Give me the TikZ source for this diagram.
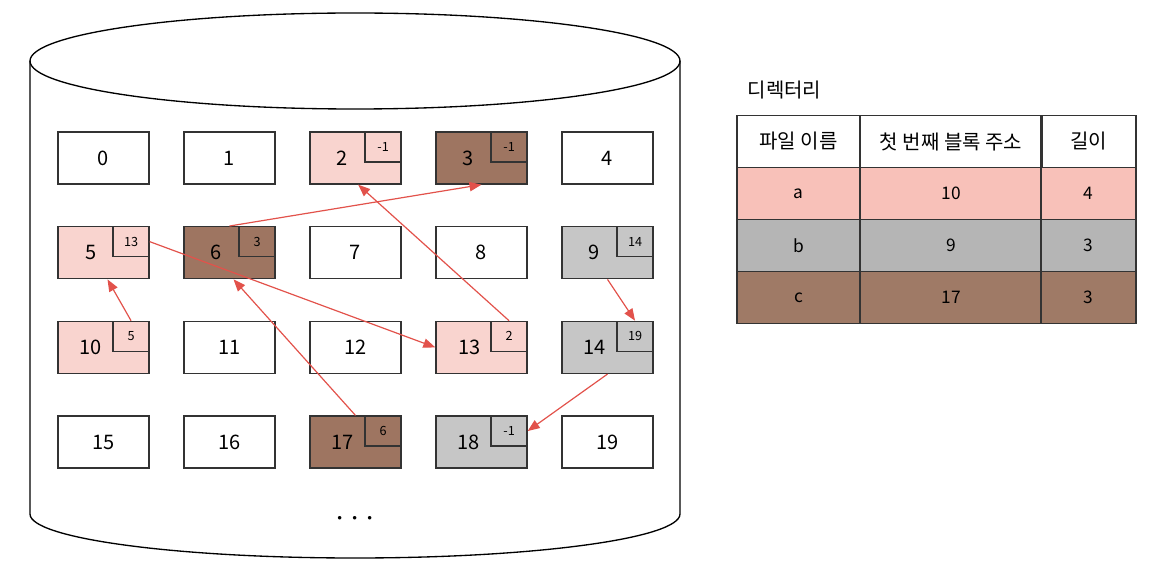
\documentclass[tikz,border=0pt]{standalone}
\usepackage{fontspec}
\setmainfont{Noto Sans CJK KR}
\usetikzlibrary{arrows.meta}

\definecolor{pinkblk}{HTML}{F9D4CF}
\definecolor{brownblk}{HTML}{9E7561}
\definecolor{grayblk}{HTML}{C6C6C6}
\definecolor{pinktab}{HTML}{F8C1B9}
\definecolor{graytab}{HTML}{B5B5B5}
\definecolor{browntab}{HTML}{9F7A66}
\definecolor{linkred}{HTML}{E2524B}

\tikzset{
  blk/.style={draw=black!80, line width=1pt, minimum width=68.25pt, minimum height=39pt, inner sep=0pt},
  ptr/.style={draw=black!80, line width=0.9pt, minimum width=27pt, minimum height=22.5pt, inner sep=0pt, font=\fontsize{9.5}{9.5}\selectfont},
  num/.style={font=\fontsize{15}{15}\selectfont},
  link/.style={linkred, line width=0.9pt, -{Triangle[length=9pt,width=7pt]}},
  cell/.style={draw=black!80, line width=1pt, minimum height=39pt, inner sep=0pt, font=\fontsize{13}{13}\selectfont}
}

\begin{document}
\begin{tikzpicture}[x=0.75pt, y=-0.75pt]
  \useasboundingbox (0,0) rectangle (1157,577);
  \pgfmathsetmacro{\dx}{126}
  \pgfmathsetmacro{\dy}{94.7}

  % disk
  \draw[line width=1pt] (355,61) ellipse[x radius=325, y radius=48];
  \draw[line width=1pt] (30,61) -- (30,514) arc[start angle=180, end angle=0, x radius=325, y radius=44] -- (680,61);
  \node[font=\fontsize{24}{24}\selectfont] (more) at (355,519) {$\cdots$};

  % blocks (number, fill, label shift)
  \foreach \i/\fc/\sh in {0/white/0, 1/white/0, 2/pinkblk/-10, 3/brownblk/-10, 4/white/0,
                          5/pinkblk/-9, 6/brownblk/-10, 7/white/0, 8/white/0, 9/grayblk/-10,
                          10/pinkblk/-10, 11/white/0, 12/white/0, 13/pinkblk/-9, 14/grayblk/-10,
                          15/white/0, 16/white/0, 17/brownblk/-10, 18/grayblk/-10, 19/white/0} {
    \pgfmathsetmacro{\cx}{103.5 + \dx*mod(\i,5)}
    \pgfmathsetmacro{\cy}{158 + \dy*int(\i/5)}
    \node[blk, fill=\fc] (b\i) at (\cx,\cy) {};
    \node[num] (n\i) at ([xshift=\sh pt]b\i.center) {\i};
  }

  % next-block pointers
  \foreach \i/\p in {2/-1, 3/-1, 5/13, 6/3, 9/14, 10/5, 13/2, 14/19, 17/6, 18/-1} {
    \node[ptr, anchor=north east] (p\i) at (b\i.north east) {\p};
  }

  % links
  \draw[link] (p10.north) -- ([xshift=3pt]b5.south);
  \draw[link] (p5.east) -- (b13.west);
  \draw[link] (p13.north) -- ([xshift=2pt]b2.south);
  \draw[link] (b17.north) -- ([xshift=3pt]b6.south);
  \draw[link] (b6.north) -- (b3.south);
  \draw[link] (b9.south) -- (p14.north);
  \draw[link] (b14.south) -- (p18.east);

  % directory table
  \node[anchor=west, font=\fontsize{15}{15}\selectfont] (title) at (743,90) {디렉터리};
  \foreach \r/\fc/\ca/\cb/\cc in {1/pinktab/a/10/4, 2/graytab/b/9/3, 3/browntab/c/17/3} {
    \pgfmathsetmacro{\ry}{141.5 + 52*\r}
    \node[cell, fill=\fc, minimum width=92.25pt] (t\r a) at (798.5,\ry) {\ca};
    \node[cell, fill=\fc, minimum width=136.5pt] (t\r b) at (951,\ry) {\cb};
    \node[cell, fill=\fc, minimum width=71.25pt] (t\r c) at (1088.5,\ry) {\cc};
  }
  \node[cell, font=\fontsize{15}{15}\selectfont, minimum width=92.25pt] (t0a) at (798.5,141.5) {파일 이름};
  \node[cell, font=\fontsize{15}{15}\selectfont, minimum width=136.5pt] (t0b) at (951,141.5) {첫 번째 블록 주소};
  \node[cell, font=\fontsize{15}{15}\selectfont, minimum width=71.25pt] (t0c) at (1088.5,141.5) {길이};
\end{tikzpicture}
\end{document}
